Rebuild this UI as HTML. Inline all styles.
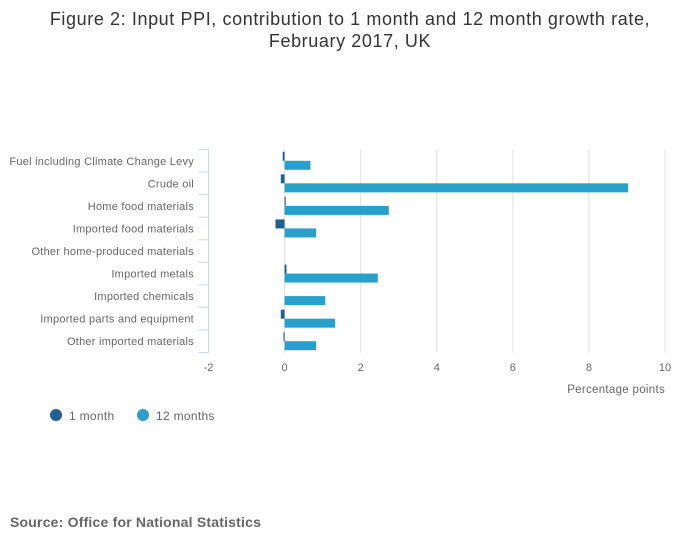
<!DOCTYPE html>
<html><head><meta charset="utf-8"><style>
body{margin:0;background:#fff;}
svg{display:block;font-family:"Liberation Sans",sans-serif;}
</style></head><body>
<svg id="chart" width="700" height="549">
<text x="350" y="25" text-anchor="middle" font-size="18" letter-spacing="0.6" fill="#333">Figure 2: Input PPI, contribution to 1 month and 12 month growth rate,</text>
<text x="350" y="47" text-anchor="middle" font-size="18" letter-spacing="0.6" fill="#333">February 2017, UK</text>
<g id="grid"></g>
<g id="bars"></g>
<g id="axis"></g>
<text x="665" y="393" text-anchor="end" font-size="11.5" letter-spacing="0.3" fill="#666">Percentage points</text>
<circle cx="56" cy="415" r="6" fill="#206095"/>
<text x="69" y="420" font-size="12" letter-spacing="0.3" fill="#666">1 month</text>
<circle cx="143" cy="415" r="6" fill="#27a0cc"/>
<text x="156" y="420" font-size="12" letter-spacing="0.3" fill="#666">12 months</text>
<text x="10" y="527" font-size="14" font-weight="bold" letter-spacing="0.2" fill="#666">Source: Office for National Statistics</text>
</svg>
<script>
const categories=["Fuel including Climate Change Levy","Crude oil","Home food materials","Imported food materials","Other home-produced materials","Imported metals","Imported chemicals","Imported parts and equipment","Other imported materials"];
const oneMonth=[-0.05,-0.1,0.03,-0.24,0,0.05,0,-0.1,-0.03];
const twelveMonths=[0.68,9.03,2.74,0.83,0,2.45,1.07,1.33,0.83];
const xTicks=[-2,0,2,4,6,8,10];
const NS="http://www.w3.org/2000/svg";
const x0=208.5,x1=665,xmin=-2,xmax=10,yTop=149.5,yBot=352.5;
const xs=v=>x0+(v-xmin)/(xmax-xmin)*(x1-x0);
const band=(yBot-yTop)/categories.length;
function mk(p,t,a){const e=document.createElementNS(NS,t);for(const k in a)e.setAttribute(k,a[k]);p.appendChild(e);return e;}
const grid=document.getElementById('grid'),bars=document.getElementById('bars'),axis=document.getElementById('axis');
xTicks.forEach(t=>{
 if(t!==xmin){const l=mk(grid,'line',{x1:xs(t),x2:xs(t),y1:yTop,y2:yBot,stroke:'#e0e0e0','stroke-width':1});
 
 }
 const tx=mk(axis,'text',{x:xs(t),y:371,'text-anchor':'middle','font-size':11,fill:'#666'});
 tx.textContent=t;
 
 
});
const al=mk(axis,'line',{x1:x0,x2:x0,y1:yTop,y2:yBot,stroke:'#ccd6eb','stroke-width':1});


for(let i=0;i<=categories.length;i++){
 const y=yTop+i*band;
 const tk=mk(axis,'line',{x1:x0-10,x2:x0,y1:y,y2:y,stroke:'#ccd6eb','stroke-width':1});
 
 
}
categories.forEach((c,i)=>{
 const cy=yTop+(i+0.5)*band;
 const t=mk(axis,'text',{x:194,y:cy+4,'text-anchor':'end','font-size':11,'letter-spacing':0.25,fill:'#666'});
 t.textContent=c;
 
 
 const z=xs(0);
 const a=xs(oneMonth[i]);
 const b1=mk(bars,'rect',{x:Math.min(z,a),y:cy-9,width:Math.max(Math.abs(a-z),0.01),height:9,fill:'#206095'});
 
 
 const b=xs(twelveMonths[i]);
 const b2=mk(bars,'rect',{x:Math.min(z,b),y:cy,width:Math.max(Math.abs(b-z),0.01),height:9,fill:'#27a0cc'});
 
 
});
</script>
</body></html>
